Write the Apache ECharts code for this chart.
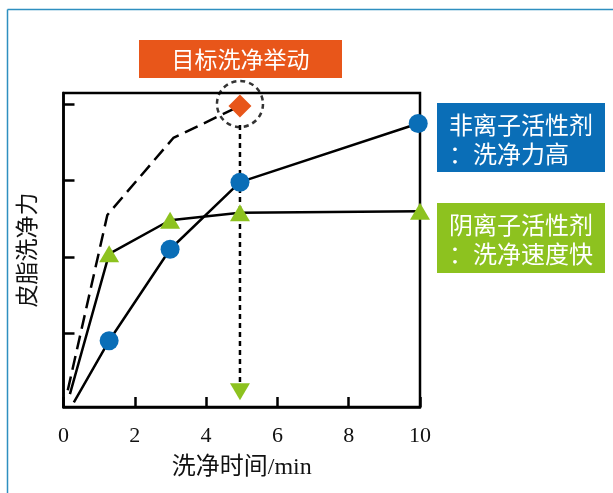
<!DOCTYPE html>
<html>
<head>
<meta charset="utf-8">
<style>
  html, body { margin: 0; padding: 0; background: #fff; }
  #chart { width: 613px; height: 493px; }
</style>
<script src="https://cdn.jsdelivr.net/npm/echarts@6/dist/echarts.min.js"></script>
</head>
<body>
<div id="chart"></div>
<script>
// Cleaning time (min) on x, sebum cleaning power (relative) on y
const xTickLabels = [0, 2, 4, 6, 8, 10];
const yTickValues = [1, 2, 3, 4];

// Nonionic surfactant: high cleaning power
const nonionicX = [0.29, 1.28, 2.99, 4.95, 9.95];
const nonionicY = [0.09, 0.90, 2.10, 2.98, 3.75];

// Anionic surfactant: fast cleaning
const anionicX = [0.18, 1.28, 2.99, 4.95, 10.0];
const anionicY = [0.20, 2.04, 2.48, 2.58, 2.60];

// Target cleaning behaviour (dashed)
const targetX = [0.12, 1.23, 3.08, 4.95];
const targetY = [0.25, 2.55, 3.56, 3.98];

// Drop line from the target point down to the time axis
const dropX = [4.95, 4.95];
const dropY = [3.73, 0.23];

const BLUE = '#0A6EB7';
const GREEN = '#8DC21F';
const ORANGE = '#E8561A';
const SERIF = '"Liberation Serif", "Times New Roman", "Noto Sans CJK SC", serif';
const CJK = '"Noto Sans CJK SC", "Noto Sans", sans-serif';

const zip = (xs, ys) => xs.map((x, i) => [x, ys[i]]);

const chart = echarts.init(document.getElementById('chart'), null, { renderer: 'canvas' });

const nonionicData = zip(nonionicX, nonionicY).map((p, i) =>
  i === 0 ? { value: p, symbol: 'none' } : { value: p });
const anionicData = zip(anionicX, anionicY).map((p, i) =>
  i === 0 ? { value: p, symbol: 'none' } : { value: p });
const targetData = zip(targetX, targetY).map((p, i) =>
  i === targetX.length - 1 ? { value: p } : { value: p, symbol: 'none' });
const dropData = zip(dropX, dropY).map((p, i) =>
  i === 0 ? { value: p, symbol: 'none' } : { value: p });
const last = targetX.length - 1;

chart.setOption({
  animation: false,
  backgroundColor: '#fff',
  grid: {
    left: 63.5, top: 93, right: 193, bottom: 86,
    show: true, borderColor: '#000', borderWidth: 2.5, backgroundColor: 'transparent'
  },
  xAxis: {
    type: 'value', min: 0, max: 10, interval: 2,
    name: '洗净时间/min', nameLocation: 'middle', nameGap: 49,
    nameTextStyle: { fontFamily: SERIF, fontSize: 24, color: '#111' },
    axisLine: { show: true, lineStyle: { color: '#000', width: 2.5 } },
    axisTick: { show: true, inside: true, length: 10, lineStyle: { color: '#000', width: 2.5 } },
    axisLabel: {
      margin: 18, fontFamily: SERIF, fontSize: 22, color: '#111',
      formatter: v => (xTickLabels.indexOf(v) >= 0 ? String(v) : '')
    },
    splitLine: { show: false }
  },
  yAxis: {
    type: 'value', min: 0.03, max: 4.15,
    name: '皮脂洗净力', nameLocation: 'middle', nameGap: 23, nameRotate: 90,
    nameTextStyle: { fontFamily: SERIF, fontSize: 23, color: '#111' },
    axisLine: { show: true, lineStyle: { color: '#000', width: 2.5 } },
    axisTick: {
      show: true, inside: true, length: 11, customValues: yTickValues,
      lineStyle: { color: '#000', width: 2.5 }
    },
    axisLabel: { show: false },
    splitLine: { show: false }
  },
  series: [
    {
      name: 'drop', type: 'line', data: dropData, z: 2,
      lineStyle: { color: '#000', width: 2.5, type: [5, 4] },
      symbol: 'triangle', symbolRotate: 180, symbolSize: [20, 17],
      itemStyle: { color: GREEN }
    },
    {
      name: 'ring', type: 'scatter', z: 3,
      data: [[targetX[last], targetY[last]]],
      symbol: 'circle', symbolSize: 46, symbolOffset: [0, -2],
      itemStyle: { color: 'rgba(0,0,0,0)', borderColor: '#000', borderWidth: 2.5, borderType: [5, 4] }
    },
    {
      name: 'target', type: 'line', data: targetData, z: 4,
      lineStyle: { color: '#000', width: 2.5, type: [14, 7] },
      symbol: 'diamond', symbolSize: 23,
      itemStyle: { color: ORANGE }
    },
    {
      name: 'anionic', type: 'line', data: anionicData, z: 5,
      lineStyle: { color: '#000', width: 2.5 },
      symbol: 'triangle', symbolSize: [20, 17],
      itemStyle: { color: GREEN }
    },
    {
      name: 'nonionic', type: 'line', data: nonionicData, z: 6,
      lineStyle: { color: '#000', width: 2.5 },
      symbol: 'circle', symbolSize: 19,
      itemStyle: { color: BLUE }
    }
  ],
  graphic: [
    // outer frame lines
    { type: 'line', shape: { x1: 7.5, y1: 9.5, x2: 613, y2: 9.5 }, style: { stroke: '#2E8FC0', lineWidth: 1.5 } },
    { type: 'line', shape: { x1: 7.5, y1: 9.5, x2: 7.5, y2: 493 }, style: { stroke: '#2E8FC0', lineWidth: 1.5 } },
    // title box
    { type: 'rect', shape: { x: 139, y: 40, width: 203, height: 38 }, style: { fill: ORANGE } },
    { type: 'text', x: 240.5, y: 59, style: {
        text: '目标洗净举动', fill: '#fff', font: '23px ' + CJK, align: 'center', verticalAlign: 'middle' } },
    // nonionic callout
    { type: 'rect', shape: { x: 437, y: 103, width: 168, height: 69 }, style: { fill: BLUE } },
    { type: 'text', x: 449, y: 125, style: {
        text: '非离子活性剂', fill: '#fff', font: '24px ' + CJK, align: 'left', verticalAlign: 'middle' } },
    { type: 'text', x: 449, y: 154, style: {
        text: '：洗净力高', fill: '#fff', font: '24px ' + CJK, align: 'left', verticalAlign: 'middle' } },
    // anionic callout
    { type: 'rect', shape: { x: 437, y: 203, width: 168, height: 70 }, style: { fill: GREEN } },
    { type: 'text', x: 449, y: 225, style: {
        text: '阴离子活性剂', fill: '#fff', font: '24px ' + CJK, align: 'left', verticalAlign: 'middle' } },
    { type: 'text', x: 449, y: 254, style: {
        text: '：洗净速度快', fill: '#fff', font: '24px ' + CJK, align: 'left', verticalAlign: 'middle' } }
  ]
});
</script>
</body>
</html>
